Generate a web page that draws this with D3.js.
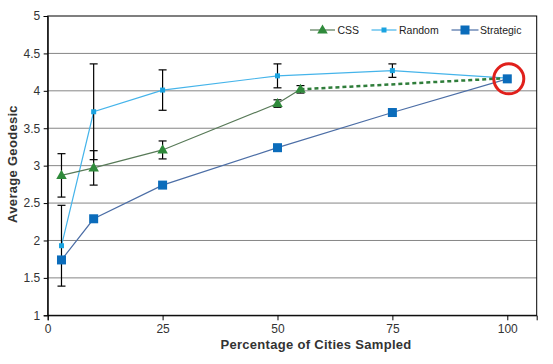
<!DOCTYPE html>
<html><head><meta charset="utf-8">
<script src="https://cdn.jsdelivr.net/npm/d3@7"></script>
<style>body{margin:0;background:#fff;}svg{display:block;font-family:"Liberation Sans",Arial,sans-serif;}</style>
</head><body>
<svg id="c" width="553" height="364"></svg>
<script>
const yTicks = [1, 1.5, 2, 2.5, 3, 3.5, 4, 4.5, 5];
const xTicks = [0, 25, 50, 75, 100];
const cssX = [3, 10, 25, 50, 55];
const cssY = [2.87, 2.97, 3.21, 3.83, 4.02];
const cssErr = [0.29, 0.23, 0.12, 0.05, 0.05];
const cssExtrapX = [55, 100];
const cssExtrapY = [4.02, 4.17];
const sampleX = [3, 10, 25, 50, 75, 100];
const randomY = [1.93, 3.72, 4.01, 4.20, 4.27, 4.17];
const randomErr = [0.54, 0.64, 0.27, 0.16, 0.09, 0];
const strategicY = [1.74, 2.29, 2.74, 3.24, 3.71, 4.16];
const highlight = {x: 100, y: 4.16};

const svg = d3.select("#c");
const L = 47.7, R = 536.7, T = 16, B = 315.3;
const x = d3.scaleLinear().domain([0, 106.4]).range([L, R]);
const y = d3.scaleLinear().domain([1, 5]).range([B, T]);

// gridlines
svg.append("g").selectAll("line").data(yTicks.filter(d => d > 1 && d < 5)).join("line")
  .attr("x1", L).attr("x2", R).attr("y1", d => y(d)).attr("y2", d => y(d))
  .attr("stroke", "#868686").attr("stroke-width", 1);

// frame
svg.append("rect").attr("x", L).attr("y", T).attr("width", R - L).attr("height", B - T)
  .attr("fill", "none").attr("stroke", "#000").attr("stroke-width", 1);

// axes
const yAxis = svg.append("g").attr("transform", `translate(${L},0)`)
  .call(d3.axisLeft(y).tickValues(yTicks).tickSize(4).tickPadding(3.5).tickFormat(d3.format("~g")));
const xAxis = svg.append("g").attr("transform", `translate(0,${B})`)
  .call(d3.axisBottom(x).tickValues(xTicks).tickSize(5).tickPadding(4).tickFormat(d3.format("d")));
[yAxis, xAxis].forEach(a => {
  a.select(".domain").attr("stroke", "#000");
  a.selectAll(".tick line").attr("stroke", "#000");
  a.selectAll("text").attr("font-size", 12).attr("fill", "#333").attr("font-family", "Liberation Sans, Arial, sans-serif");
});

// axis titles
svg.append("text").attr("x", 316).attr("y", 349).attr("text-anchor", "middle")
  .attr("font-size", 13).attr("font-weight", "bold").attr("fill", "#333").attr("letter-spacing", 0.3)
  .text("Percentage of Cities Sampled");
svg.append("text").attr("transform", "translate(17,164) rotate(-90)").attr("text-anchor", "middle")
  .attr("font-size", 13).attr("font-weight", "bold").attr("fill", "#333").attr("letter-spacing", 0.3)
  .text("Average Geodesic");

const line = d3.line().x(d => x(d[0])).y(d => y(d[1]));
const cssPts = cssX.map((v, i) => [v, cssY[i]]);
const randPts = sampleX.map((v, i) => [v, randomY[i]]);
const stratPts = sampleX.map((v, i) => [v, strategicY[i]]);
const extrapPts = cssExtrapX.map((v, i) => [v, cssExtrapY[i]]);

const cssCol = "#2f8a3b", cssLine = "#587a58";
const randCol = "#1aa3e0", randLine = "#45b4ea";
const stratCol = "#0b6cbb", stratLine = "#4c6ea6";

svg.append("path").attr("d", line(stratPts)).attr("fill", "none").attr("stroke", stratLine).attr("stroke-width", 1.2);
svg.append("path").attr("d", line(randPts)).attr("fill", "none").attr("stroke", randLine).attr("stroke-width", 1.2);
svg.append("path").attr("d", line(cssPts)).attr("fill", "none").attr("stroke", cssLine).attr("stroke-width", 1.2);
svg.append("path").attr("d", line(extrapPts)).attr("fill", "none").attr("stroke", "#2f7d3a")
  .attr("stroke-width", 2.5).attr("stroke-dasharray", "4,3");

// error bars
function errBars(xs, ys, es) {
  const g = svg.append("g").attr("stroke", "#000").attr("stroke-width", 1.2);
  xs.forEach((xv, i) => {
    if (!es[i]) return;
    const cx = x(xv), y0 = y(ys[i] - es[i]), y1 = y(ys[i] + es[i]);
    g.append("line").attr("x1", cx).attr("x2", cx).attr("y1", y0).attr("y2", y1);
    g.append("line").attr("x1", cx - 4).attr("x2", cx + 4).attr("y1", y0).attr("y2", y0);
    g.append("line").attr("x1", cx - 4).attr("x2", cx + 4).attr("y1", y1).attr("y2", y1);
  });
}
errBars(cssX, cssY, cssErr);
errBars(sampleX, randomY, randomErr);

// markers
const tri = d3.symbol().type(d3.symbolTriangle).size(48);
svg.append("g").selectAll("path").data(cssPts).join("path")
  .attr("d", tri).attr("transform", d => `translate(${x(d[0])},${y(d[1]) + 0.5})`).attr("fill", cssCol);
svg.append("g").selectAll("rect").data(randPts).join("rect")
  .attr("x", d => x(d[0]) - 2.5).attr("y", d => y(d[1]) - 2.5).attr("width", 5).attr("height", 5).attr("fill", randCol);
svg.append("g").selectAll("rect").data(stratPts).join("rect")
  .attr("x", d => x(d[0]) - 4.5).attr("y", d => y(d[1]) - 4.5).attr("width", 9).attr("height", 9).attr("fill", stratCol);

// highlight circle
svg.append("circle").attr("cx", x(highlight.x) + 1.5).attr("cy", y(highlight.y)).attr("r", 15)
  .attr("fill", "none").attr("stroke", "#e0201c").attr("stroke-width", 3);

// legend
const leg = svg.append("g").attr("font-size", 10.5).attr("fill", "#222");
const legItems = [
  {name: "CSS", x0: 310, x1: 335, tx: 337.5, col: cssCol, lc: cssLine, m: "tri"},
  {name: "Random", x0: 371.5, x1: 396.5, tx: 399, col: randCol, lc: randLine, m: "small"},
  {name: "Strategic", x0: 451.5, x1: 478.5, tx: 480, col: stratCol, lc: stratLine, m: "big"}
];
const ly = 30;
legItems.forEach(it => {
  leg.append("line").attr("x1", it.x0).attr("x2", it.x1).attr("y1", ly).attr("y2", ly).attr("stroke", it.lc).attr("stroke-width", 1.2);
  const cx = (it.x0 + it.x1) / 2;
  if (it.m === "tri") leg.append("path").attr("d", tri).attr("transform", `translate(${cx},${ly + 0.5})`).attr("fill", it.col);
  else if (it.m === "small") leg.append("rect").attr("x", cx - 2.5).attr("y", ly - 2.5).attr("width", 5).attr("height", 5).attr("fill", it.col);
  else leg.append("rect").attr("x", cx - 4.5).attr("y", ly - 4.5).attr("width", 9).attr("height", 9).attr("fill", it.col);
  leg.append("text").attr("x", it.tx).attr("y", ly + 4).attr("fill", "#222").text(it.name);
});
</script>
</body></html>
